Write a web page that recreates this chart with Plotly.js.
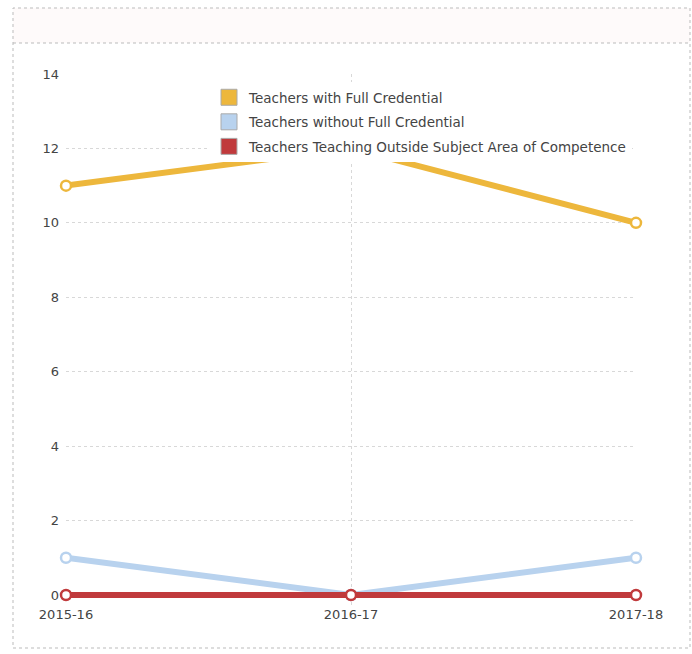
<!DOCTYPE html>
<html>
<head>
<meta charset="utf-8">
<script src="https://cdn.plot.ly/plotly-3.0.1.min.js"></script>
<style>html,body{margin:0;padding:0;background:#fff;}#chart{width:692px;height:654px;}</style>
</head>
<body>
<div id="chart"></div>
<script>
const years = ["2015-16", "2016-17", "2017-18"];
const seriesNames = [
  "Teachers with Full Credential",
  "Teachers without Full Credential",
  "Teachers Teaching Outside Subject Area of Competence"
];
const fullCredential = [11, 12, 10];
const withoutCredential = [1, 0, 1];
const outsideSubject = [0, 0, 0];
const yTicks = [0, 2, 4, 6, 8, 10, 12, 14];

const colors = ["#EDB73C", "#B8D2EE", "#C03A3C"];
const W = 692, H = 654;
const M = {l: 66, r: 56, t: 74, b: 49};
const px = x => (x - M.l) / (W - M.l - M.r);
const py = y => (H - M.b - y) / (H - M.t - M.b);
// 0 sits at 595 px, 14 at 74 px; plot area extends to 605 px so thick lines at 0 are not clipped
const yMin = -(10 / ((595 - 74) / 14));

const values = [fullCredential, withoutCredential, outsideSubject];
const order = [1, 2, 0];
const traces = [];
order.forEach(i => {
  traces.push({
    type: "scatter", mode: "lines+markers",
    x: years, y: values[i], name: seriesNames[i], showlegend: false,
    line: {color: colors[i], width: 6},
    marker: {color: "#fff", size: 10, line: {color: colors[i], width: 2.5}},
    cliponaxis: false
  });
});
// legend swatches
[0, 1, 2].forEach(i => {
  traces.push({
    type: "scatter", mode: "markers", x: [null], y: [null],
    name: seriesNames[i], legendgroup: "g" + i, showlegend: true,
    marker: {symbol: "square", size: 17, color: colors[i], line: {color: "#aaa", width: 1}}
  });
});

const font = "DejaVu Sans, Verdana, sans-serif";
const layout = {
  width: W, height: H,
  margin: M,
  paper_bgcolor: "#fff", plot_bgcolor: "#fff",
  font: {family: font, size: 13, color: "#444"},
  xaxis: {
    type: "category", range: [0, 2], showgrid: true, gridcolor: "#d8d8d8", griddash: "dot",
    zeroline: false, showline: false, ticks: "", ticklabelstandoff: 0,
    tickfont: {family: font, size: 13, color: "#444"}, fixedrange: true
  },
  yaxis: {
    range: [yMin, 14], tickvals: yTicks, showgrid: true, gridcolor: "#d8d8d8", griddash: "dot",
    zeroline: false, showline: false, ticks: "", ticklabelstandoff: 6,
    tickfont: {family: font, size: 13, color: "#444"}, fixedrange: true
  },
  legend: {
    x: px(209), y: py(82), xanchor: "left", yanchor: "top",
    bgcolor: "#fff", borderwidth: 0, tracegroupgap: 4,
    font: {family: font, size: 13.5, color: "#444"},
    itemsizing: "trace"
  },
  shapes: [
    {type: "rect", xref: "paper", yref: "paper", x0: px(13), x1: px(690), y0: py(43), y1: py(8),
     fillcolor: "#fefafa", line: {width: 0}, layer: "below"},
    {type: "rect", xref: "paper", yref: "paper", x0: px(13), x1: px(690), y0: py(648), y1: py(8),
     line: {color: "#bbb", width: 1, dash: "dot"}, layer: "below"},
    {type: "line", xref: "paper", yref: "paper", x0: px(13), x1: px(690), y0: py(43), y1: py(43),
     line: {color: "#bbb", width: 1, dash: "dot"}, layer: "below"}
  ]
};
Plotly.newPlot("chart", traces, layout, {displayModeBar: false, staticPlot: true});
</script>
</body>
</html>
